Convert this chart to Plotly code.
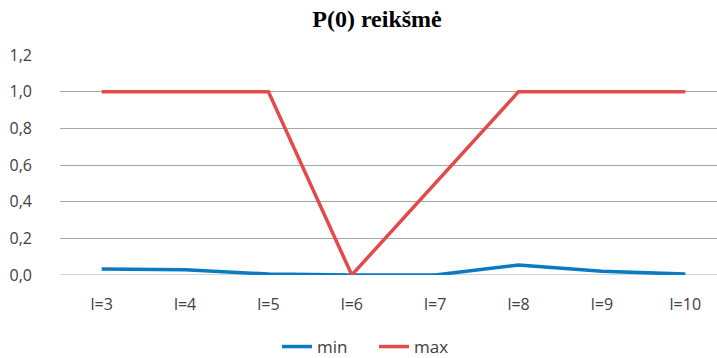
import plotly.graph_objects as go

categories = ["l=3", "l=4", "l=5", "l=6", "l=7", "l=8", "l=9", "l=10"]
min_values = [0.033, 0.028, 0.005, 0.0, 0.0, 0.055, 0.02, 0.005]
max_values = [1.0, 1.0, 1.0, 0.0, 0.5, 1.0, 1.0, 1.0]
y_ticks = [0.0, 0.2, 0.4, 0.6, 0.8, 1.0, 1.2]

fig = go.Figure()
fig.add_trace(go.Scatter(x=categories, y=min_values, mode="lines", name="min",
                         line=dict(color="#0A7AC2", width=3.5), cliponaxis=False))
fig.add_trace(go.Scatter(x=categories, y=max_values, mode="lines", name="max",
                         line=dict(color="#E34B4B", width=3.5), cliponaxis=False))

fig.update_layout(
    width=717, height=358,
    margin=dict(l=60, r=0, t=55, b=83, autoexpand=False),
    paper_bgcolor="white", plot_bgcolor="white",
    separators=",.",
    title=dict(text="<b>P(0) reikšmė</b>", x=377 / 717, xref="container", xanchor="center",
               y=1 - 19 / 358, yref="container", yanchor="middle",
               font=dict(family="Liberation Serif", size=24, color="black")),
    font=dict(family="Open Sans", size=16, color="#404040"),
    showlegend=True,
    legend=dict(orientation="h", xref="container", x=374 / 717, xanchor="center",
                yref="container", y=11 / 358, yanchor="middle",
                font=dict(size=17, color="#404040"), entrywidth=52,
                bgcolor="rgba(0,0,0,0)"),
    xaxis=dict(type="category", range=[-0.5, 7.38], showgrid=False, zeroline=False,
               showline=False, ticks="", ticklabelstandoff=18, automargin=False,
               tickfont=dict(size=16, color="#404040")),
    yaxis=dict(range=[0, 1.2], tickvals=y_ticks, tickformat=".1f", showgrid=True,
               gridcolor="#A6A6A6", gridwidth=1, zeroline=False, showline=False,
               ticks="", ticklabelstandoff=27, automargin=False,
               tickfont=dict(size=16, color="#404040")),
)
fig.add_hline(y=0, line=dict(color="#A6A6A6", width=1), layer="below")

fig.write_html("out.html", config={"displayModeBar": False},
               post_script="document.body.style.margin='0';")
